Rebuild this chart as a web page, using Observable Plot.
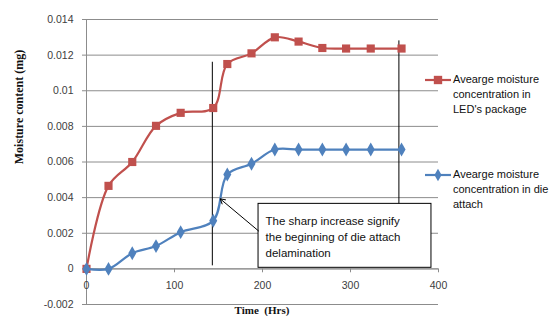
<!DOCTYPE html>
<html><head><meta charset="utf-8">
<script src="https://cdn.jsdelivr.net/npm/d3@7"></script>
<script src="https://cdn.jsdelivr.net/npm/@observablehq/plot@0.6"></script>
<style>body{margin:0;background:#fff}#c{position:relative;width:553px;height:316px}</style>
</head><body><div id="c"></div>
<script>
const hours = [0, 25, 52, 79, 107, 144, 160, 187.5, 214, 241, 268, 295, 323, 358];
const ledPackage = [0, 0.00466, 0.006, 0.00803, 0.00876, 0.00903, 0.0115, 0.0121, 0.0130, 0.01276, 0.0124, 0.01237, 0.01237, 0.01237];
const dieAttach = [0, 0, 0.00088, 0.00128, 0.00206, 0.0027, 0.0053, 0.0059, 0.0067, 0.0067, 0.0067, 0.0067, 0.0067, 0.0067];
const xTicks = [0, 100, 200, 300, 400];
const yTicks = [-0.002, 0, 0.002, 0.004, 0.006, 0.008, 0.01, 0.012, 0.014];
const seriesNames = ["Avearge moisture\nconcentration in\nLED's package", "Avearge moisture\nconcentration in die\nattach"];
const markerLines = [{x: 143, y1: 0.00017, y2: 0.0116}, {x: 355, y1: 0.0005, y2: 0.0128}];
const note = "The sharp increase signify\nthe beginning of die attach\ndelamination";
const noteBox = {x1: 195.5, x2: 392, y1: 0.00006, y2: 0.00365};
const noteArrow = {x1: 195.5, y1: 0.00213, x2: 152, y2: 0.00393};

const red = "#C0504D", blue = "#4F81BD";
const led = hours.map((h, i) => ({h, v: ledPackage[i]}));
const die = hours.map((h, i) => ({h, v: dieAttach[i]}));
const fmt = d => String(+d.toFixed(3));
const font = "Liberation Sans, Arial, sans-serif";

const plot = Plot.plot({
  width: 553, height: 316,
  marginLeft: 86, marginRight: 115, marginTop: 19, marginBottom: 12,
  style: {fontFamily: font, fontSize: "10.5px", color: "#404040", background: "#fff"},
  x: {domain: [0, 400], axis: null},
  y: {domain: [-0.002, 0.014], axis: null},
  marks: [
    Plot.gridY(yTicks, {stroke: "#8c8c8c", strokeOpacity: 1, strokeWidth: 1}),
    Plot.axisY(yTicks, {tickFormat: fmt, tickSize: 4, tickPadding: 9, stroke: "#8c8c8c", label: null, fill: "#404040", fontSize: 10.5}),
    Plot.ruleX([0], {stroke: "#8c8c8c"}),
    Plot.ruleY([0], {stroke: "#8c8c8c"}),
    Plot.ruleX(xTicks, {x: d => d, y1: 0, y2: -0.00022, stroke: "#8c8c8c"}),
    Plot.text(xTicks, {x: d => d, y: 0, dy: 17, text: d => String(d), fill: "#404040", fontSize: 10.5}),
    Plot.ruleX(markerLines, {x: "x", y1: "y1", y2: "y2", stroke: "#000", strokeWidth: 1}),
    Plot.line(led, {x: "h", y: "v", stroke: red, strokeWidth: 2.2, curve: "catmull-rom"}),
    Plot.dot(led, {x: "h", y: "v", symbol: "square", r: 4.6, fill: red, stroke: null}),
    Plot.line(die, {x: "h", y: "v", stroke: blue, strokeWidth: 2.2, curve: "catmull-rom"}),
    Plot.dot(die, {x: "h", y: "v", symbol: "diamond", r: 4.2, fill: blue, stroke: null}),
    Plot.rect([noteBox], {x1: "x1", x2: "x2", y1: "y1", y2: "y2", fill: "#fff", stroke: "#000", strokeWidth: 1}),
    Plot.text([note], {x: noteBox.x1, y: (noteBox.y1 + noteBox.y2) / 2, dx: 7, text: d => d, textAnchor: "start", lineHeight: 1.4, fontSize: 11.5, fill: "#111"}),
    Plot.arrow([noteArrow], {x1: "x1", y1: "y1", x2: "x2", y2: "y2", stroke: "#000", strokeWidth: 1, headLength: 8})
  ]
});
document.getElementById("c").appendChild(plot);

const svg = d3.select(plot);
svg.append("text").attr("transform", "translate(20,107) rotate(-90)")
  .attr("text-anchor", "middle").attr("dominant-baseline", "middle")
  .style("font", "bold 12px 'Liberation Serif', 'Times New Roman', serif").attr("fill", "#111")
  .text("Moisture content (mg)");
svg.append("text").attr("x", 262).attr("y", 314)
  .attr("text-anchor", "middle")
  .style("font", "bold 11px 'Liberation Serif', 'Times New Roman', serif").attr("fill", "#111")
  .text("Time  (Hrs)");

const leg = [{name: seriesNames[0], color: red, sym: d3.symbolSquare, size: 70, y: 80},
             {name: seriesNames[1], color: blue, sym: d3.symbolDiamond, size: 45, y: 175}];
leg.forEach(l => {
  const g = svg.append("g");
  g.append("line").attr("x1", 425).attr("x2", 451).attr("y1", l.y).attr("y2", l.y).attr("stroke", l.color).attr("stroke-width", 2.2);
  g.append("path").attr("d", d3.symbol(l.sym, l.size)()).attr("transform", `translate(438,${l.y})`).attr("fill", l.color);
  l.name.split("\n").forEach((t, i) => {
    g.append("text").attr("x", 453).attr("y", l.y + i * 15).attr("dominant-baseline", "middle")
      .attr("text-anchor", "start")
      .style("font", `11px ${font}`).attr("fill", "#111").text(t);
  });
});
</script></body></html>
